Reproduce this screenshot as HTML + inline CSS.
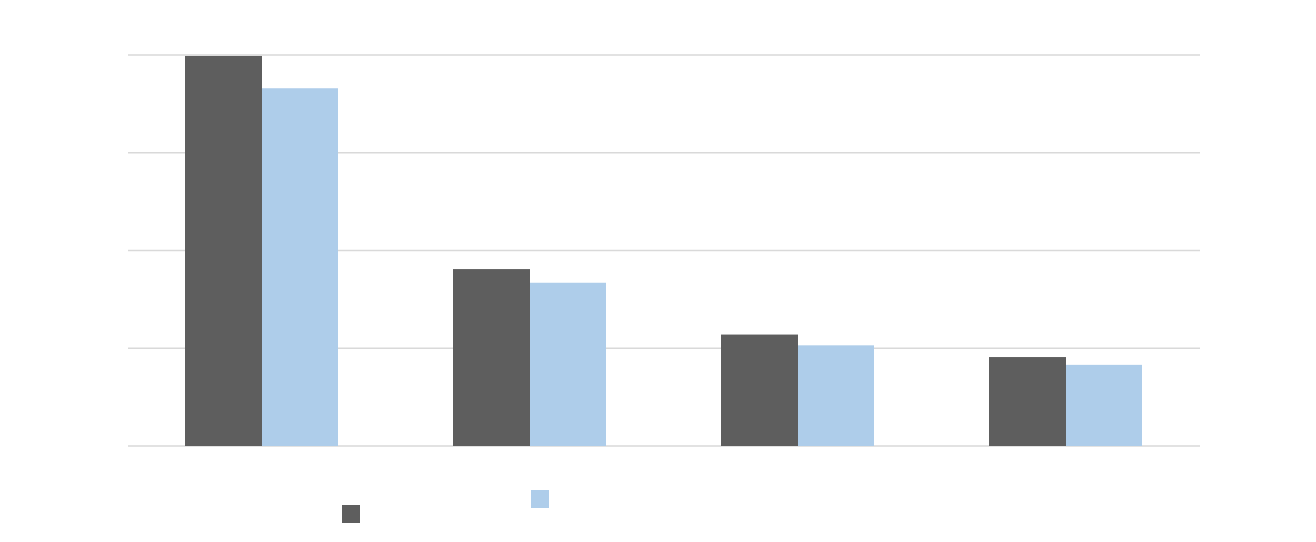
<!DOCTYPE html>
<html><head><meta charset="utf-8"><style>
html,body{margin:0;padding:0;background:#fff;}
svg{display:block;font-family:"Liberation Sans",sans-serif;}
</style></head><body>
<svg id="chart" width="1316" height="542"></svg>
<script>
const categories = ["A","B","C","D"];
const series1 = [3.99, 1.81, 1.14, 0.91];
const series2 = [3.66, 1.67, 1.03, 0.83];
const yTicks = [0, 1, 2, 3, 4];

const NS = "http://www.w3.org/2000/svg";
const svg = document.getElementById("chart");
const x0 = 128, x1 = 1200, yBase = 446, yTop = 55, yMax = 4;
const band = (x1 - x0) / categories.length;
const barW = 77;
function y(v){ return yBase - (v / yMax) * (yBase - yTop); }
function xc(i){ return x0 + band * (i + 0.5); }
function mk(tag, attrs){ const e = document.createElementNS(NS, tag); for (const k in attrs) e.setAttribute(k, attrs[k]); svg.appendChild(e); return e; }

yTicks.forEach((t) => {
  const l = mk("line", {x1: x0, x2: x1, y1: y(t), y2: y(t), stroke: "#d9d9d9", "stroke-width": 1.5});
  
  
});
categories.forEach((c, i) => {
  const r1 = mk("rect", {x: xc(i) - barW, y: y(series1[i]), width: barW, height: yBase - y(series1[i]), fill: "#5e5e5e"});
  
  
  const r2 = mk("rect", {x: xc(i), y: y(series2[i]), width: barW - 1, height: yBase - y(series2[i]), fill: "#aecdea"});
  
  
});
const lg1 = mk("rect", {x: 342, y: 505, width: 18, height: 18, fill: "#5e5e5e"});


const lg2 = mk("rect", {x: 531, y: 490, width: 18, height: 18, fill: "#aecdea"});


</script>
</body></html>
